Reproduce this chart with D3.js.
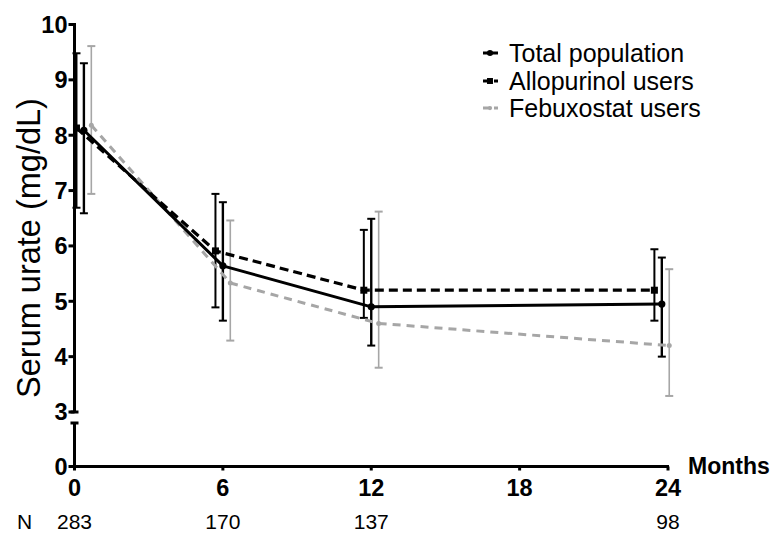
<!DOCTYPE html>
<html><head><meta charset="utf-8">
<script src="https://cdn.jsdelivr.net/npm/d3@7"></script>
<style>
html,body{margin:0;padding:0;background:#fff;}
svg{display:block;font-family:"Liberation Sans",Arial,Helvetica,sans-serif;}
</style></head>
<body>
<svg id="chart" width="774" height="534"></svg>
<script>
// ---- data ----
const months = [0, 6, 12, 24];
const nLabels = ["283", "170", "137", "98"];
const xTicks = [0, 6, 12, 18, 24];
const yTicksUpper = [3, 4, 5, 6, 7, 8, 9, 10];
const yTicksLower = [0];
const seriesNames = ["Total population", "Allopurinol users", "Febuxostat users"];
const totalMean = [8.09, 5.64, 4.90, 4.95];
const totalHi   = [9.30, 6.79, 6.49, 5.79];
const totalLo   = [6.59, 4.65, 4.20, 4.00];
const alloMean  = [8.13, 5.91, 5.20, 5.20];
const alloHi    = [9.48, 6.94, 6.29, 5.94];
const alloLo    = [6.69, 4.89, 4.70, 4.65];
const febuMean  = [8.18, 5.33, 4.60, 4.20];
const febuHi    = [9.61, 6.46, 6.62, 5.58];
const febuLo    = [6.94, 4.29, 3.80, 3.29];

// ---- layout ----
const svg = d3.select("#chart");
const x = d3.scaleLinear().domain([0, 24]).range([74.5, 668]);
const yU = d3.scaleLinear().domain([3, 10]).range([412, 24.5]);
const yL = d3.scaleLinear().domain([0, 0.78]).range([466.5, 423]);
const yv = v => v >= 3 ? yU(v) : yL(v);
const groupShift = [0.38, 0, 0, -0.25];
const dodge = [0, -0.3, 0.3];

const series = [
  {name: seriesNames[0], mean: totalMean, hi: totalHi, lo: totalLo, color: "#000", dash: null, lw: 3, ew: 2.4, marker: "circle"},
  {name: seriesNames[1], mean: alloMean, hi: alloHi, lo: alloLo, color: "#000", dash: "9,5", lw: 3.2, ew: 2, marker: "square"},
  {name: seriesNames[2], mean: febuMean, hi: febuHi, lo: febuLo, color: "#a6a6a6", dash: "8,6", lw: 3, ew: 1.6, marker: "small"}
];
const px = (si, i) => x(months[i] + groupShift[i] + dodge[si]);

// error bars
const drawOrder = [2, 0, 1];
drawOrder.forEach(si => {
  const s = series[si];
  const g = svg.append("g");
  months.forEach((m, i) => {
    const cx = px(si, i);
    g.append("line").attr("x1", cx).attr("x2", cx).attr("y1", yv(s.hi[i])).attr("y2", yv(s.lo[i]))
      .attr("stroke", s.color).attr("stroke-width", s.ew);
    [s.hi[i], s.lo[i]].forEach(v => {
      g.append("line").attr("x1", cx - 4).attr("x2", cx + 4).attr("y1", yv(v)).attr("y2", yv(v))
        .attr("stroke", s.color).attr("stroke-width", 2);
    });
  });
});

// lines
drawOrder.forEach(si => {
  const s = series[si];
  const line = d3.line().x((d, i) => px(si, i)).y(d => yv(d));
  svg.append("path").datum(s.mean).attr("d", line).attr("fill", "none")
    .attr("stroke", s.color).attr("stroke-width", s.lw)
    .attr("stroke-dasharray", s.dash).attr("stroke-linejoin", "round");
});

function marker(g, type, cx, cy, color, k) {
  k = k || 1;
  if (type === "circle") g.append("circle").attr("cx", cx).attr("cy", cy).attr("r", 3.6 * k).attr("fill", color);
  else if (type === "square") g.append("rect").attr("x", cx - 3.5 * k).attr("y", cy - 3.5 * k).attr("width", 7 * k).attr("height", 7 * k).attr("fill", color);
  else g.append("circle").attr("cx", cx).attr("cy", cy).attr("r", 2.5 * k).attr("fill", color);
}
drawOrder.forEach(si => {
  const s = series[si];
  const g = svg.append("g");
  s.mean.forEach((v, i) => marker(g, s.marker, px(si, i), yv(v), s.color));
});

// ---- axes ----
const ax = svg.append("g").attr("stroke", "#000").attr("stroke-width", 3);
const axX = 74.5;
ax.append("line").attr("x1", axX).attr("x2", axX).attr("y1", yU(10) - 1.5).attr("y2", yU(3));
ax.append("line").attr("x1", axX).attr("x2", axX).attr("y1", yL(0.78)).attr("y2", yL(0) + 1.5);
// break caps
ax.append("line").attr("x1", axX - 4).attr("x2", axX + 4).attr("y1", yU(3)).attr("y2", yU(3));
ax.append("line").attr("x1", axX - 4).attr("x2", axX + 4).attr("y1", yL(0.78)).attr("y2", yL(0.78));
// y ticks
const yTickG = svg.append("g");
yTicksUpper.forEach(t => {
  yTickG.append("line").attr("x1", axX - 6).attr("x2", axX).attr("y1", yU(t)).attr("y2", yU(t)).attr("stroke", "#000").attr("stroke-width", 3);
  yTickG.append("text").attr("x", axX - 7).attr("y", yU(t)).attr("dy", "0.36em").attr("text-anchor", "end")
    .attr("font-size", 23.5).attr("font-weight", "bold").text(t);
});
yTicksLower.forEach(t => {
  yTickG.append("line").attr("x1", axX - 6).attr("x2", axX).attr("y1", yL(t)).attr("y2", yL(t)).attr("stroke", "#000").attr("stroke-width", 3);
  yTickG.append("text").attr("x", axX - 7).attr("y", yL(t)).attr("dy", "0.36em").attr("text-anchor", "end")
    .attr("font-size", 23.5).attr("font-weight", "bold").text(t);
});
// x axis
const xAxisY = yL(0);
ax.append("line").attr("x1", axX).attr("x2", x(24) + 1).attr("y1", xAxisY).attr("y2", xAxisY);
xTicks.forEach(t => {
  svg.append("line").attr("x1", x(t)).attr("x2", x(t)).attr("y1", xAxisY).attr("y2", xAxisY + 4).attr("stroke", "#000").attr("stroke-width", 3);
  svg.append("text").attr("x", x(t)).attr("y", 496).attr("text-anchor", "middle")
    .attr("font-size", 23.5).attr("font-weight", "bold").text(t);
});
svg.append("text").attr("x", 688).attr("y", 474).attr("font-size", 23).attr("font-weight", "bold").text("Months");

// N row
svg.append("text").attr("x", 17).attr("y", 529).attr("font-size", 21).text("N");
months.forEach((m, i) => {
  svg.append("text").attr("x", x(m)).attr("y", 529).attr("text-anchor", "middle").attr("font-size", 21).text(nLabels[i]);
});

// y label
svg.append("text").attr("transform", "translate(40,248) rotate(-90)").attr("text-anchor", "middle")
  .attr("font-size", 32.5).text("Serum urate (mg/dL)");

// legend
const legY = [53, 81, 108];
series.forEach((s, i) => {
  const g = svg.append("g");
  g.append("line").attr("x1", 483).attr("x2", 498).attr("y1", legY[i]).attr("y2", legY[i])
    .attr("stroke", s.color).attr("stroke-width", 3).attr("stroke-dasharray", s.dash ? "7,4" : null);
  marker(g, s.marker, 490, legY[i], s.color, 0.85);
  g.append("text").attr("x", 509).attr("y", legY[i]).attr("dy", "0.36em").attr("font-size", 25).text(s.name);
});
</script>
</body></html>
